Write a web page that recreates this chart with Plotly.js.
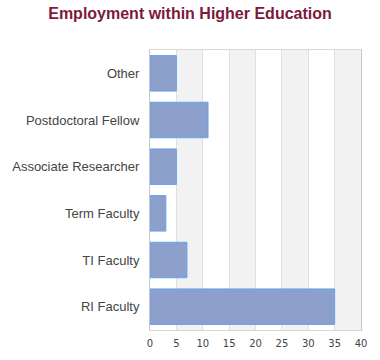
<!DOCTYPE html>
<html><head><meta charset="utf-8">
<script src="https://cdn.plot.ly/plotly-3.0.1.min.js"></script>
<style>html,body{margin:0;padding:0;background:#fff}</style>
</head><body>
<div id="chart" style="width:380px;height:360px"></div>
<script>
const categories = ["RI Faculty", "TI Faculty", "Term Faculty", "Associate Researcher", "Postdoctoral Fellow", "Other"];
const counts = [35, 7, 3, 5, 11, 5];
const xTicks = [0, 5, 10, 15, 20, 25, 30, 35, 40];

const bands = [];
for (let i = 1; i < xTicks.length; i += 2) {
  bands.push({type: 'rect', xref: 'x', yref: 'paper', x0: xTicks[i], x1: xTicks[i + 1], y0: 0, y1: 1,
    fillcolor: '#f2f2f2', line: {width: 0}, layer: 'below'});
}

Plotly.newPlot('chart', [{
  type: 'bar', orientation: 'h', y: categories, x: counts,
  marker: {color: '#8da0cb', line: {color: '#62a3ee', width: 1}},
  hoverinfo: 'x+y'
}], {
  width: 380, height: 360,
  margin: {l: 150, r: 19, t: 50, b: 30},
  paper_bgcolor: '#fff', plot_bgcolor: '#fff',
  title: {text: 'Employment within Higher Education', x: 0.5, xanchor: 'center', y: 0.963, yanchor: 'middle',
    font: {family: 'Liberation Sans, Arial, sans-serif', size: 16, color: '#7b1a3c', weight: 'bold'}},
  bargap: 0.24,
  showlegend: false,
  shapes: bands,
  xaxis: {range: [0, 40], tickvals: xTicks, ticktext: xTicks.map(String), showgrid: true, gridcolor: '#e0e0e0',
    zeroline: false, showline: true, linecolor: '#d9d9d9', mirror: true, ticks: '', ticklabelstandoff: 4,
    tickfont: {family: 'DejaVu Sans, sans-serif', size: 10, color: '#444'}, fixedrange: true},
  yaxis: {type: 'category', categoryorder: 'array', categoryarray: categories, showgrid: false, zeroline: false,
    showline: true, linecolor: '#c8c8c8', mirror: true, ticks: '', ticklabelstandoff: 7,
    tickfont: {family: 'Liberation Sans, Arial, sans-serif', size: 13, color: '#444'}, fixedrange: true}
}, {displayModeBar: false, staticPlot: true});
</script>
</body></html>
